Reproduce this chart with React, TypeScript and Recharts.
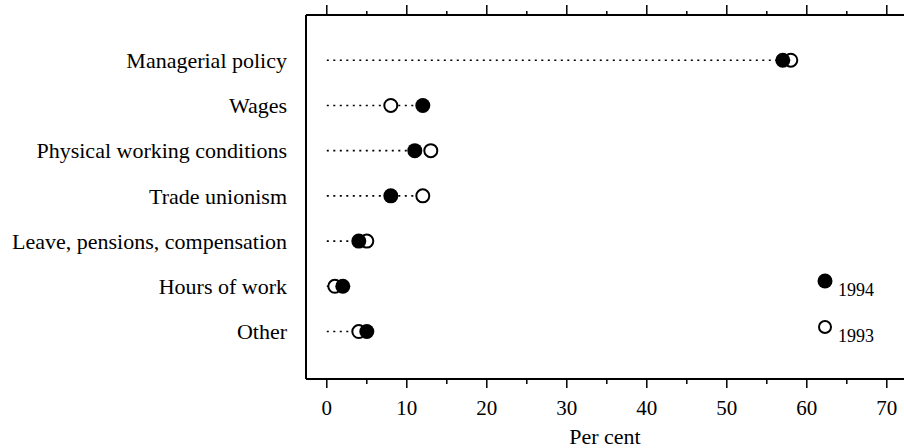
import React from 'react';
import {
  ScatterChart,
  Scatter,
  XAxis,
  YAxis,
  ReferenceLine,
  Legend,
} from 'recharts';

const categories = [
  'Managerial policy',
  'Wages',
  'Physical working conditions',
  'Trade unionism',
  'Leave, pensions, compensation',
  'Hours of work',
  'Other',
];
const values1994 = [57, 12, 11, 8, 4, 2, 5];
const values1993 = [58, 8, 13, 12, 5, 1, 4];
const xTicks = [0, 5, 10, 15, 20, 25, 30, 35, 40, 45, 50, 55, 60, 65, 70];
const rowTicks = [1, 2, 3, 4, 5, 6, 7];
const legendItems = [
  { name: '1994', filled: true },
  { name: '1993', filled: false },
];

const FONT = '"Liberation Serif", "Times New Roman", serif';

const data1994 = categories.map((c, i) => ({ name: c, x: values1994[i], y: i + 1 }));
const data1993 = categories.map((c, i) => ({ name: c, x: values1993[i], y: i + 1 }));
const segments = categories.map((c, i) => ({
  y: i + 1,
  max: Math.max(values1994[i], values1993[i]),
}));

const FilledDot = (p: any) => <circle cx={p.cx} cy={p.cy} r={7.5} fill="#000" />;
const OpenDot = (p: any) => (
  <circle cx={p.cx} cy={p.cy} r={6.5} fill="#fff" stroke="#000" strokeWidth={2} />
);

const BottomTick = (props: any) => {
  const { x, y, payload } = props;
  const major = payload.value % 10 === 0;
  return (
    <g>
      <line x1={x} x2={x} y1={y} y2={y + (major ? 9 : 5)} stroke="#000" strokeWidth={1.5} />
      {major && (
        <text x={x} y={y + 36} textAnchor="middle" fill="#000" fontSize={21} fontFamily={FONT}>
          {payload.value}
        </text>
      )}
    </g>
  );
};

const TopTick = (props: any) => {
  const { x, y, payload } = props;
  const major = payload.value % 10 === 0;
  return <line x1={x} x2={x} y1={y} y2={y - (major ? 10 : 4)} stroke="#000" strokeWidth={1.5} />;
};

const LegendContent = () => (
  <svg width={92} height={80} style={{ display: 'block' }}>
    {legendItems.map((item, i) => (
      <g key={item.name}>
        {item.filled ? (
          <circle cx={13} cy={11 + i * 46} r={7.5} fill="#000" />
        ) : (
          <circle cx={13} cy={11 + i * 46} r={6} fill="#fff" stroke="#000" strokeWidth={2} />
        )}
        <text x={26} y={26 + i * 46} fill="#000" fontSize={18} fontFamily={FONT}>
          {item.name}
        </text>
      </g>
    ))}
  </svg>
);

export default function App() {
  return (
    <div style={{ position: 'absolute', left: 0, top: 0, background: '#fff' }}>
      <ScatterChart width={904} height={448} margin={{ top: 0, right: 0, bottom: 0, left: 0 }}>
        <XAxis
          xAxisId="bottom"
          type="number"
          dataKey="x"
          orientation="bottom"
          domain={[-2.6, 72.15]}
          ticks={xTicks}
          interval={0}
          height={69}
          tickSize={0}
          tickMargin={0}
          tick={BottomTick}
          axisLine={{ stroke: '#000', strokeWidth: 2 }}
          tickLine={false}
          allowDataOverflow
          label={{
            value: 'Per cent',
            position: 'insideBottom',
            offset: 4,
            fill: '#000',
            fontSize: 22,
            fontFamily: FONT,
          }}
        />
        <XAxis
          xAxisId="top"
          type="number"
          dataKey="x"
          orientation="top"
          domain={[-2.6, 72.15]}
          ticks={xTicks}
          interval={0}
          height={15}
          tickSize={0}
          tickMargin={0}
          tick={TopTick}
          axisLine={{ stroke: '#000', strokeWidth: 2 }}
          tickLine={false}
          allowDataOverflow
        />
        <YAxis
          type="number"
          dataKey="y"
          domain={[0, 8.05]}
          reversed
          ticks={rowTicks}
          interval={0}
          width={306}
          tickSize={6}
          tickMargin={13}
          tickLine={false}
          axisLine={{ stroke: '#000', strokeWidth: 2 }}
          tickFormatter={(v: number) => categories[v - 1] ?? ''}
          tick={{ fill: '#000', fontSize: 22, fontFamily: FONT }}
          allowDataOverflow
        />
        {segments.map((s) => (
          <ReferenceLine
            key={s.y}
            xAxisId="bottom"
            segment={[
              { x: 0, y: s.y },
              { x: s.max, y: s.y },
            ]}
            stroke="#000"
            strokeWidth={1.6}
            strokeDasharray="2 4.5"
          />
        ))}
        <Scatter
          name="1993"
          xAxisId="bottom"
          data={data1993}
          shape={OpenDot}
          isAnimationActive={false}
        />
        <Scatter
          name="1994"
          xAxisId="bottom"
          data={data1994}
          shape={FilledDot}
          isAnimationActive={false}
        />
        <Legend
          layout="vertical"
          align="center"
          verticalAlign="middle"
          content={LegendContent}
          wrapperStyle={{ position: 'absolute', left: 812, top: 270, width: 92, height: 80 }}
        />
      </ScatterChart>
    </div>
  );
}
